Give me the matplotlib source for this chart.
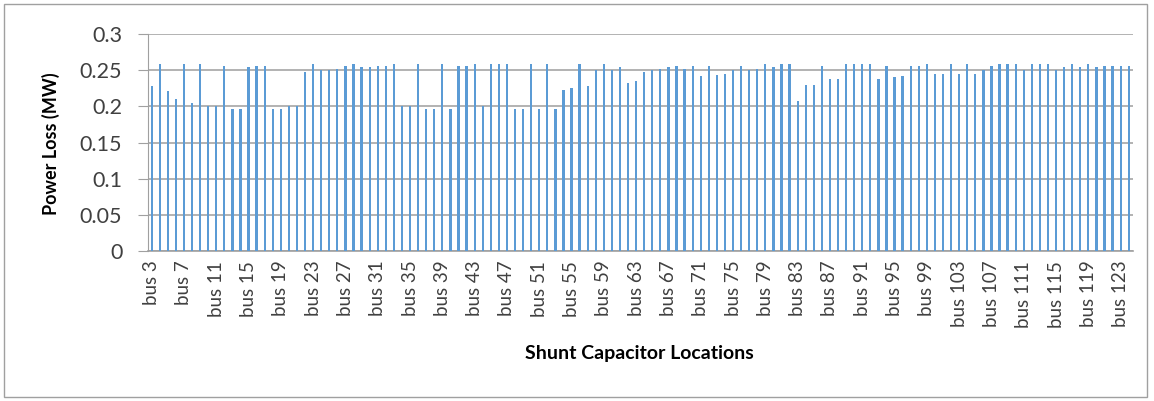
import matplotlib.pyplot as plt
from matplotlib.patches import Rectangle

# bus numbers 3..124 and the power loss
buses = ['bus %d' % n for n in range(3, 125)]
power_loss = [
    0.228, 0.258, 0.221, 0.210, 0.258, 0.205, 0.258, 0.200, 0.200, 0.256,
    0.197, 0.197, 0.255, 0.256, 0.256, 0.197, 0.197, 0.200, 0.200, 0.247,
    0.258, 0.250, 0.250, 0.252, 0.256, 0.258, 0.255, 0.255, 0.256, 0.256,
    0.258, 0.200, 0.200, 0.258, 0.197, 0.197, 0.258, 0.197, 0.256, 0.256,
    0.258, 0.200, 0.258, 0.258, 0.258, 0.197, 0.197, 0.258, 0.197, 0.258,
    0.197, 0.223, 0.226, 0.258, 0.228, 0.250, 0.258, 0.250, 0.255, 0.233,
    0.235, 0.247, 0.250, 0.252, 0.255, 0.256, 0.252, 0.256, 0.242, 0.256,
    0.244, 0.245, 0.250, 0.256, 0.250, 0.252, 0.258, 0.255, 0.258, 0.258,
    0.208, 0.230, 0.230, 0.256, 0.238, 0.238, 0.258, 0.258, 0.258, 0.258,
    0.238, 0.256, 0.240, 0.242, 0.256, 0.256, 0.258, 0.245, 0.245, 0.258,
    0.245, 0.258, 0.245, 0.250, 0.256, 0.258, 0.258, 0.258, 0.250, 0.258,
    0.258, 0.258, 0.250, 0.255, 0.258, 0.255, 0.258, 0.255, 0.256, 0.256,
    0.256, 0.256,
]
y_ticks = [0, 0.05, 0.1, 0.15, 0.2, 0.25, 0.3]
y_tick_labels = ['0', '0.05', '0.1', '0.15', '0.2', '0.25', '0.3']

plt.rcParams['font.family'] = ['Lato', 'DejaVu Sans']

fig = plt.figure(figsize=(11.54, 4.01), dpi=100)
# outer chart border
fig.patches.append(Rectangle((4 / 1154, 4 / 401), 1143 / 1154, 393 / 401,
                             transform=fig.transFigure, fill=False,
                             edgecolor='#a0a0a0', linewidth=1))

ax = fig.add_axes([0.1279, 0.374, 0.8537, 0.541])
x = list(range(len(buses)))
ax.bar(x, power_loss, width=0.28, color='#5b9bd5', zorder=3)

ax.set_xlim(-0.5, len(buses) - 0.5)
ax.set_ylim(0, 0.3)
ax.set_yticks(y_ticks)
ax.set_yticklabels(y_tick_labels, fontsize=15.5, color='#404040')
ax.set_xticks(x[::4])
ax.set_xticklabels(buses[::4], rotation=90, fontsize=13.5, color='#404040')
ax.tick_params(axis='x', length=0, pad=7)
ax.tick_params(axis='y', length=7.2, color='#a0a0a0', pad=11)

ax.grid(axis='y', color='#a6a6a6', linewidth=1.2, zorder=0)
for side in ['top', 'right']:
    ax.spines[side].set_visible(False)
ax.spines['left'].set_color('#a0a0a0')
ax.spines['bottom'].set_color('#a0a0a0')
ax.spines['bottom'].set_linewidth(1.2)

fig.text(51 / 1154, 1 - 144 / 401, 'Power Loss (MW)', rotation=90,
         fontsize=13, fontweight='bold', ha='center', va='center')
fig.text(639 / 1154, 1 - 353 / 401, 'Shunt Capacitor Locations',
         fontsize=14, fontweight='bold', ha='center', va='center')

fig.savefig('out.png', dpi=100)
